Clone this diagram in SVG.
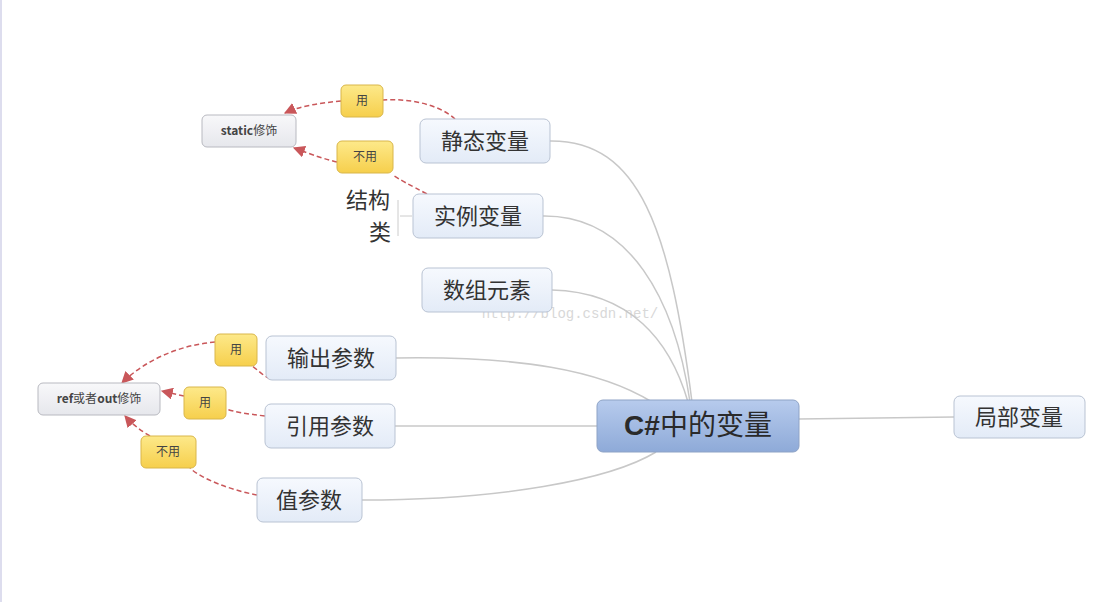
<svg xmlns="http://www.w3.org/2000/svg" width="1110" height="602" viewBox="0 0 1110 602">
<defs>
<linearGradient id="gn" x1="0" y1="0" x2="0" y2="1"><stop offset="0" stop-color="#f6f9fe"/><stop offset="1" stop-color="#e3ebf7"/></linearGradient>
<linearGradient id="gg" x1="0" y1="0" x2="0" y2="1"><stop offset="0" stop-color="#f8f8fa"/><stop offset="1" stop-color="#e6e7ec"/></linearGradient>
<linearGradient id="gy" x1="0" y1="0" x2="0" y2="1"><stop offset="0" stop-color="#fde98a"/><stop offset="1" stop-color="#f6cf4c"/></linearGradient>
<linearGradient id="gc" x1="0" y1="0" x2="0" y2="1"><stop offset="0" stop-color="#b7cbed"/><stop offset="1" stop-color="#8eaad8"/></linearGradient>
<marker id="ar" viewBox="0 0 10 10" refX="9" refY="5" markerWidth="12" markerHeight="12" markerUnits="userSpaceOnUse" orient="auto"><path d="M0,0L10,5L0,10z" fill="#c9575a"/></marker>
<style>
.n{fill:url(#gn);stroke:#b9c3d3;stroke-width:1}
.g{fill:url(#gg);stroke:#b8b9c0;stroke-width:1}
.y{fill:url(#gy);stroke:#d9b64a;stroke-width:1}
.t{font-family:"Noto Sans CJK SC",sans-serif;font-size:22px;fill:#333;text-anchor:middle}
.s{font-family:"Noto Sans CJK SC",sans-serif;font-size:12px;fill:#444;text-anchor:middle}
.b{font-weight:bold}
.l{fill:none;stroke:#c8c8c8;stroke-width:1.5}
.d{fill:none;stroke:#c9575a;stroke-width:1.5;stroke-dasharray:5,3}
</style>
</defs>
<rect width="1110" height="602" fill="#fff"/>
<line x1="1" y1="0" x2="1" y2="602" stroke="#dde" stroke-width="2"/>
<text x="570" y="318" font-family="Liberation Mono,monospace" font-size="14" fill="#d8d8d8" text-anchor="middle">http://blog.csdn.net/</text>
<g id="connectors">
<path class="l" d="M550,141 C640,140 670,230 692,402"/>
<path class="l" d="M543,216 C630,215 675,300 690,402"/>
<path class="l" d="M552,290 C630,292 670,340 688,402"/>
<path class="l" d="M396,358 C520,356 600,370 652,402"/>
<path class="l" d="M395,426 L597,426"/>
<path class="l" d="M362,500 C500,500 610,480 656,452"/>
<path class="l" d="M799,419 L954,417"/>
<path fill="none" stroke="#ccc" d="M412,216 L400,216 M398,200 L398,236"/>
<path class="d" d="M455,119 C440,105 410,98 383,100"/>
<path class="d" marker-end="url(#ar)" d="M341,101 C320,103 300,106 285,113"/>
<path class="d" d="M427,194 C410,185 400,180 393,175"/>
<path class="d" marker-end="url(#ar)" d="M337,162 C320,158 305,152 294,148"/>
<path class="d" d="M270,379 C262,375 258,370 252,366"/>
<path class="d" marker-end="url(#ar)" d="M215,342 C180,345 145,360 122,383"/>
<path class="d" d="M265,416 C248,414 235,412 226,409"/>
<path class="d" marker-end="url(#ar)" d="M184,396 C175,394 170,393 162,391"/>
<path class="d" d="M257,495 C230,490 200,478 190,468"/>
<path class="d" marker-end="url(#ar)" d="M150,436 C140,430 132,424 125,416"/>
</g>
<g id="static"><rect class="g" x="202" y="115" width="94" height="32" rx="5"/><text class="s" x="249" y="135"><tspan class="b">static</tspan>修饰</text></g>
<g id="use1"><rect class="y" x="341" y="85" width="42" height="32" rx="5"/><text class="s" x="362" y="105">用</text></g>
<g id="nouse1"><rect class="y" x="337" y="141" width="56" height="32" rx="5"/><text class="s" x="365" y="161">不用</text></g>
<g id="jingtai"><rect class="n" x="420" y="119" width="130" height="44" rx="6"/><text class="t" x="485" y="149">静态变量</text></g>
<g id="jiegou"><text class="t" x="368" y="208">结构</text><text class="t" x="380" y="240">类</text></g>
<g id="shili"><rect class="n" x="413" y="194" width="130" height="44" rx="6"/><text class="t" x="478" y="224">实例变量</text></g>
<g id="shuzu"><rect class="n" x="422" y="268" width="130" height="44" rx="6"/><text class="t" x="487" y="298">数组元素</text></g>
<g id="refout"><rect class="g" x="38" y="383" width="122" height="32" rx="5"/><text class="s" x="99" y="403"><tspan class="b">ref</tspan>或者<tspan class="b">out</tspan>修饰</text></g>
<g id="use2"><rect class="y" x="215" y="334" width="42" height="32" rx="5"/><text class="s" x="236" y="354">用</text></g>
<g id="use3"><rect class="y" x="184" y="387" width="42" height="32" rx="5"/><text class="s" x="205" y="407">用</text></g>
<g id="nouse2"><rect class="y" x="141" y="436" width="55" height="32" rx="5"/><text class="s" x="168" y="456">不用</text></g>
<g id="shuchu"><rect class="n" x="266" y="336" width="130" height="44" rx="6"/><text class="t" x="331" y="366">输出参数</text></g>
<g id="yinyong"><rect class="n" x="265" y="404" width="130" height="44" rx="6"/><text class="t" x="330" y="434">引用参数</text></g>
<g id="zhi"><rect class="n" x="257" y="478" width="105" height="44" rx="6"/><text class="t" x="309" y="508">值参数</text></g>
<g id="center"><rect x="597" y="400" width="202" height="52" rx="6" fill="url(#gc)" stroke="#8ea3c6"/><text x="698" y="435" font-family="Liberation Sans,'Noto Sans CJK SC',sans-serif" font-size="28" fill="#2a2a2a" text-anchor="middle"><tspan font-weight="bold">C#</tspan>中的变量</text></g>
<g id="jubu"><rect class="n" x="954" y="396" width="131" height="42" rx="6"/><text class="t" x="1019" y="425">局部变量</text></g>
</svg>
